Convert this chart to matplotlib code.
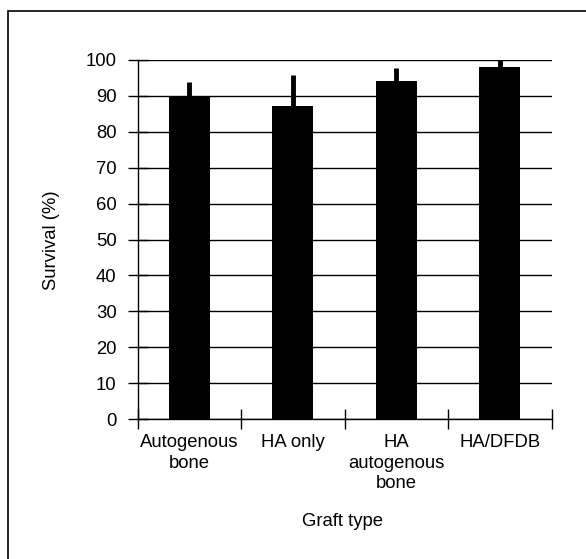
import matplotlib
matplotlib.use("Agg")
import matplotlib.pyplot as plt
from matplotlib.patches import Rectangle

categories = ["Autogenous\nbone", "HA only", "HA\nautogenous\nbone", "HA/DFDB"]
survival = [90.0, 87.3, 94.2, 98.0]
err_upper = [4.0, 8.5, 3.7, 2.2]
yticks = list(range(0, 101, 10))

plt.rcParams['font.family'] = ['Liberation Sans', 'DejaVu Sans']

W, H = 586, 559
fig = plt.figure(figsize=(W / 100, H / 100), dpi=100)

# outer frame (left and top edges visible; right/bottom beyond image)
fig.patches.append(Rectangle((8 / W, -0.1), 1.2, 1 - 11 / H + 0.1, transform=fig.transFigure,
                             fill=False, edgecolor='black', linewidth=1.2))

x0, x1 = 137.5, 551.5
y0, y1 = 419, 60
ax = fig.add_axes([x0 / W, 1 - y0 / H, (x1 - x0) / W, (y0 - y1) / H])

xs = list(range(len(categories)))
ax.bar(xs, survival, width=0.4, color='black', zorder=3)
ax.errorbar(xs, survival, yerr=[[0] * len(xs), err_upper], fmt='none', ecolor='black',
            elinewidth=3.5, capsize=0, zorder=2)

ax.set_xlim(-0.5, len(categories) - 0.5)
ax.set_ylim(0, 100)
ax.set_yticks(yticks)
ax.set_yticklabels([str(t) for t in yticks], fontsize=13.3)
ax.yaxis.grid(True, color='black', linewidth=1.0, zorder=0)
ax.set_axisbelow(True)

ax.set_xticks([i - 0.5 for i in range(len(categories) + 1)])
ax.set_xticklabels([])
ax.tick_params(axis='x', direction='inout', length=15, width=1.0)
ax.tick_params(axis='y', direction='inout', length=14, width=1.0, pad=8)
for i, lab in enumerate(categories):
    ax.text(i, -4.3, lab, ha='center', va='top', fontsize=13.3, linespacing=1.25,
            transform=ax.transData, clip_on=False)

for s in ['top', 'right']:
    ax.spines[s].set_visible(False)
ax.spines['left'].set_linewidth(1.0)
ax.spines['bottom'].set_linewidth(1.0)

fig.text(52 / W, 1 - 240 / H, "Survival (%)", rotation=90, ha='center', va='center', fontsize=13.3)
fig.text(343 / W, 1 - 522 / H, "Graft type", ha='center', va='center', fontsize=13.3)

fig.savefig("out.png", dpi=100)
